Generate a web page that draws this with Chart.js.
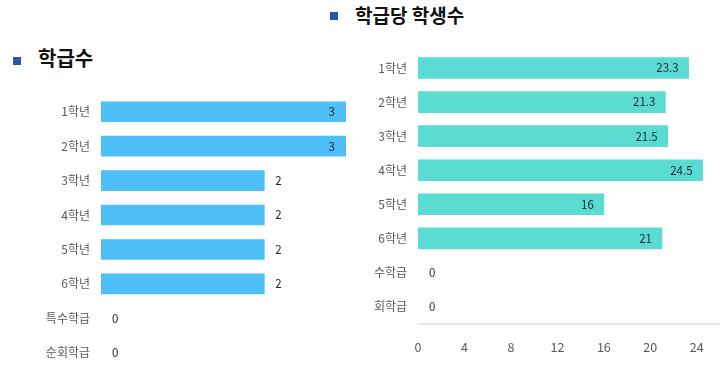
<!DOCTYPE html>
<html><head><meta charset="utf-8">
<script src="https://cdn.jsdelivr.net/npm/chart.js@4.4.1/dist/chart.umd.min.js"></script>
<style>
html,body{margin:0;padding:0;background:#fff;width:720px;height:365px;overflow:hidden;position:relative;font-family:"Noto Sans CJK KR","Noto Sans",sans-serif;}
.box{position:absolute;}
.t{position:absolute;font-weight:bold;color:#111;white-space:nowrap;line-height:1;}
.sq{position:absolute;width:8px;height:8px;background:#2f54b0;}
</style></head>
<body>
<div class="sq" style="left:13px;top:57px"></div>
<div class="t" style="left:38px;top:48px;font-size:20px">학급수</div>
<div class="sq" style="left:330px;top:12px"></div>
<div class="t" style="left:355px;top:5px;font-size:19px">학급당 학생수</div>
<div class="box" style="left:0;top:0;width:360px;height:372px"><canvas id="c1"></canvas></div>
<div class="box" style="left:320px;top:0;width:400px;height:365px"><canvas id="c2"></canvas></div>
<script>
const classCats = ['1학년','2학년','3학년','4학년','5학년','6학년','특수학급','순회학급'];
const classCounts = [3,3,2,2,2,2,0,0];
const studentCats = ['1학년','2학년','3학년','4학년','5학년','6학년','수학급','회학급'];
const studentsPerClass = [23.3,21.3,21.5,24.5,16,21,0,0];
const studentTicks = [0,4,8,12,16,20,24];

const FONT = '"Noto Sans CJK KR","Noto Sans",sans-serif';
Chart.defaults.font.family = FONT;

const valueLabels = {
  id:'valueLabels',
  afterDatasetsDraw(chart, args, opts){
    const ctx = chart.ctx;
    const meta = chart.getDatasetMeta(0);
    const data = chart.data.datasets[0].data;
    ctx.save();
    ctx.font = '11.5px ' + FONT;
    ctx.fillStyle = opts.color || '#222';
    ctx.textBaseline = 'middle';
    meta.data.forEach((el, i) => {
      const v = data[i];
      const txt = String(v);
      const w = ctx.measureText(txt).width;
      let inside;
      if (v === 0) inside = false;
      else if (opts.mode === 'inside') inside = true;
      else inside = (el.x + 10 + w > chart.chartArea.right);
      if (inside) { ctx.textAlign = 'right'; ctx.fillText(txt, el.x - opts.inOff, el.y); }
      else { ctx.textAlign = 'left'; ctx.fillText(txt, el.x + 11, el.y); }
    });
    ctx.restore();
  }
};
const colorFor = c => (ctx) => (ctx.raw === 0 ? 'rgba(0,0,0,0)' : c);

new Chart(document.getElementById('c1'), {
  type:'bar',
  data:{labels:classCats, datasets:[{data:classCounts, backgroundColor:colorFor('#4fc0f7'), barThickness:20}]},
  options:{
    indexAxis:'y', responsive:true, maintainAspectRatio:false, animation:false, devicePixelRatio:1,
    layout:{padding:{left:0,right:14,top:94.5,bottom:2}},
    plugins:{legend:{display:false}, tooltip:{enabled:false}, valueLabels:{mode:'auto', inOff:11, color:'#222'}},
    scales:{
      x:{display:false, min:0, max:3},
      y:{grid:{display:false, drawTicks:false}, border:{display:false},
         ticks:{color:'#595959', font:{size:12}, padding:11},
         afterFit(s){ s.width = 101; s.paddingTop = 0; s.paddingBottom = 0; }}
    }
  },
  plugins:[valueLabels]
});

new Chart(document.getElementById('c2'), {
  type:'bar',
  data:{labels:studentCats, datasets:[{data:studentsPerClass, backgroundColor:colorFor('#5adcd3'), barThickness:21}]},
  options:{
    indexAxis:'y', responsive:true, maintainAspectRatio:false, animation:false, devicePixelRatio:1,
    layout:{padding:{left:0,right:0,top:51,bottom:0}},
    plugins:{legend:{display:false}, tooltip:{enabled:false}, valueLabels:{mode:'inside', inOff:10, color:'#1c2630'}},
    scales:{
      x:{min:0, max:26, grid:{display:false, drawTicks:false}, border:{display:true, color:'#e6e6e6', width:2},
         ticks:{stepSize:4, color:'#595959', font:{size:12.5}, padding:16, maxRotation:0},
         afterBuildTicks(s){ s.ticks = studentTicks.map(v => ({value:v})); },
         afterFit(s){ s.height = 41.5; }},
      y:{grid:{display:false, drawTicks:false}, border:{display:false},
         ticks:{color:'#595959', font:{size:12}, padding:11},
         afterFit(s){ s.width = 98; }}
    }
  },
  plugins:[valueLabels]
});
</script>
</body></html>
